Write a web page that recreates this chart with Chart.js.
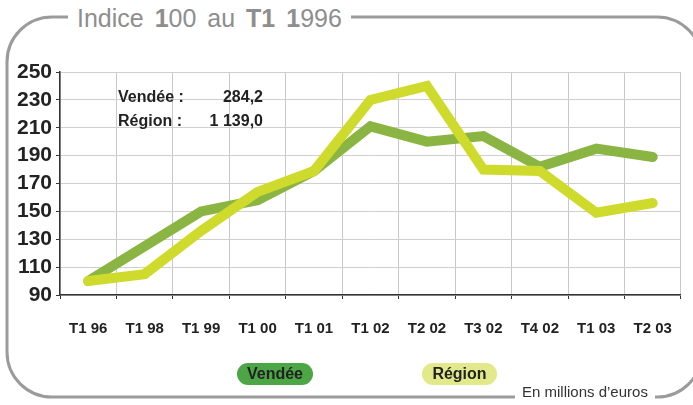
<!DOCTYPE html>
<html>
<head>
<meta charset="utf-8">
<script src="https://cdn.jsdelivr.net/npm/chart.js@4.4.1/dist/chart.umd.min.js"></script>
<style>
  body { margin: 0; background: #fff; }
  #wrap { position: relative; width: 693px; height: 405px; overflow: hidden; background: #fff; }
  #chart { position: absolute; left: 0; top: 0; }
  .title { position: absolute; left: 68px; top: 3px; padding: 0 9px; background: #fff;
           font: 400 25px "Liberation Sans", Arial, sans-serif; color: #8e8e8e; line-height: 30px;
           white-space: nowrap; word-spacing: 4px; }
  .title b { font-weight: 700; }
  .note { position: absolute; font: 700 16px "Liberation Sans", Arial, sans-serif; color: #222; white-space: nowrap; }
  .pill { position: absolute; top: 363px; height: 22px; border-radius: 11px; text-align: center;
          font: 700 16px "Liberation Sans", Arial, sans-serif; color: #222; line-height: 22px; }
  .foot { position: absolute; left: 515px; top: 383px; padding: 0 7px; background: #fff;
          font: 400 15px "Liberation Sans", Arial, sans-serif; color: #333; line-height: 18px; white-space: nowrap; }
</style>
</head>
<body>
<div id="wrap">
  <canvas id="chart" width="693" height="405"></canvas>
  <div class="title">Indice <b>1</b>00 au <b>T1</b> <b>1</b>996</div>
  <div id="notes"></div>
  <div id="legend"></div>
  <div class="foot">En millions d’euros</div>
</div>
<script>
const categories = ['T1 96', 'T1 98', 'T1 99', 'T1 00', 'T1 01', 'T1 02', 'T2 02', 'T3 02', 'T4 02', 'T1 03', 'T2 03'];
const vendee = [100, 125, 150, 158, 179, 211, 200, 204, 182, 195, 189];
const region = [100, 105, 136, 164, 179, 230, 240, 180, 179, 149, 156];
const yMin = 90;
const yMax = 250;
const yStep = 20;
const totals = [['Vendée :', '284,2'], ['Région :', '1 139,0']];

// cadre arrondi gris autour du graphique
const framePlugin = {
    id: 'frame',
    beforeDraw(chart) {
        const ctx = chart.ctx;
        ctx.save();
        ctx.strokeStyle = '#9b9b9b';
        ctx.lineWidth = 3;
        ctx.beginPath();
        ctx.roundRect(7, 17, 695, 380, 45);
        ctx.stroke();
        ctx.restore();
    }
};

const ctx = document.getElementById('chart').getContext('2d');

const lineChart = new Chart(ctx, {
    type: 'line',
    data: {
        labels: categories,
        datasets: [{
            label: 'Vendée',
            data: vendee,
            borderColor: '#8bb543',
            borderWidth: 10,
            borderCapStyle: 'round',
            borderJoinStyle: 'miter',
            pointRadius: 0,
            tension: 0,
            order: 1
        }, {
            label: 'Région',
            data: region,
            borderColor: '#cfdb2c',
            borderWidth: 10,
            borderCapStyle: 'round',
            borderJoinStyle: 'miter',
            pointRadius: 0,
            tension: 0,
            order: 0
        }]
    },
    options: {
        responsive: false,
        animation: false,
        layout: { padding: { top: 72, right: 2, left: 0, bottom: 0 } },
        plugins: {
            legend: { display: false },
            tooltip: { enabled: false }
        },
        scales: {
            x: {
                offset: true,
                grid: { offset: true, color: '#c8c8c8', tickColor: '#333', tickLength: 4 },
                border: { color: '#333', width: 1.5 },
                ticks: {
                    color: '#222',
                    padding: 21,
                    maxRotation: 0,
                    autoSkip: false,
                    font: { family: '"Liberation Sans", Arial, sans-serif', size: 15, weight: 'bold' }
                },
                afterFit: function(scale) { scale.height = 110; }
            },
            y: {
                min: yMin,
                max: yMax,
                grid: { color: '#cfcfcf', tickColor: '#333', tickLength: 4 },
                border: { color: '#333', width: 1.5 },
                ticks: {
                    stepSize: yStep,
                    autoSkip: false,
                    color: '#222',
                    padding: 4,
                    font: { family: '"Liberation Sans", Arial, sans-serif', size: 21, weight: 'bold', lineHeight: 1 }
                },
                afterFit: function(scale) { scale.width = 60; }
            }
        }
    },
    plugins: [framePlugin]
});

// montants en haut à gauche
const notes = document.getElementById('notes');
totals.forEach(function(row, i) {
    const lab = document.createElement('div');
    lab.className = 'note';
    lab.style.left = '118px';
    lab.style.top = (88 + i * 24) + 'px';
    lab.textContent = row[0];
    notes.appendChild(lab);
    const val = document.createElement('div');
    val.className = 'note';
    val.style.right = (693 - 263) + 'px';
    val.style.top = (88 + i * 24) + 'px';
    val.textContent = row[1];
    notes.appendChild(val);
});

// légende en pastilles
const pills = [['#4ca646', 237, 76], ['#e2e98a', 422, 75]];
const legend = document.getElementById('legend');
lineChart.data.datasets.forEach(function(ds, i) {
    const p = document.createElement('div');
    p.className = 'pill';
    p.style.background = pills[i][0];
    p.style.left = pills[i][1] + 'px';
    p.style.width = pills[i][2] + 'px';
    p.textContent = ds.label;
    legend.appendChild(p);
});
</script>
</body>
</html>
